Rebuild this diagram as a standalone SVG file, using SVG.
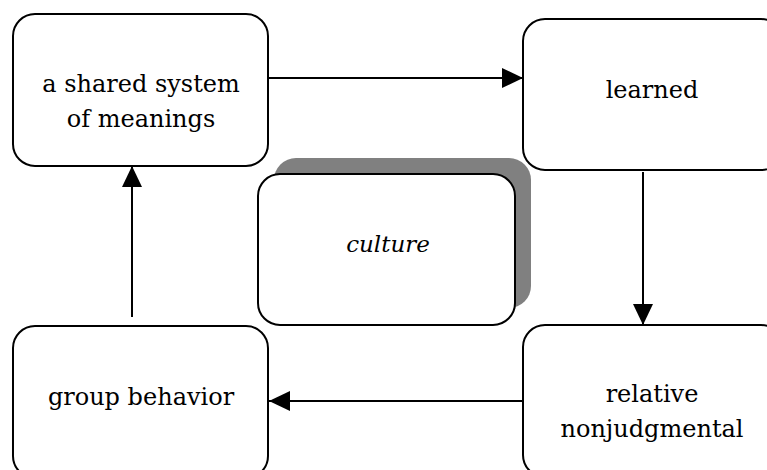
<svg xmlns="http://www.w3.org/2000/svg" width="767" height="470" viewBox="0 0 767 470">
  <style>
    .box { fill: #ffffff; stroke: #000000; stroke-width: 2; }
    .shadow { fill: #808080; stroke: none; }
    .label { font-family: 'DejaVu Serif', 'Liberation Serif', serif; font-size: 24px; fill: #000000; text-anchor: middle; }
    .italic { font-style: italic; font-size: 23px; }
    .edge { stroke: #000000; stroke-width: 2; fill: none; marker-end: url(#arrow); }
  </style>
  <defs>
    <marker id="arrow" viewBox="0 0 21 20" refX="21" refY="10" markerWidth="21" markerHeight="20" markerUnits="userSpaceOnUse" orient="auto">
      <path d="M0,0 L21,10 L0,20 Z" fill="#000000"/>
    </marker>
  </defs>
  <rect width="767" height="470" fill="#ffffff"/>

  <g id="connectors">
    <line class="edge" x1="269" y1="78" x2="523" y2="78"/>
    <line class="edge" x1="643" y1="172" x2="643" y2="325"/>
    <line class="edge" x1="523" y1="401" x2="269" y2="401"/>
    <line class="edge" x1="132" y1="317" x2="132" y2="166"/>
  </g>

  <g id="node-meanings">
    <rect class="box" x="13" y="14" width="255" height="152" rx="22" ry="22"/>
    <text class="label" x="141" y="92">a shared system</text>
    <text class="label" x="141" y="127">of meanings</text>
  </g>

  <g id="node-learned">
    <rect class="box" x="523" y="19" width="260" height="151" rx="22" ry="22"/>
    <text class="label" x="652" y="98">learned</text>
  </g>

  <g id="node-culture">
    <rect class="shadow" x="274" y="158" width="257" height="150" rx="22" ry="22"/>
    <rect class="box" x="258" y="174" width="257" height="151" rx="22" ry="22"/>
    <text class="label italic" x="388" y="252">culture</text>
  </g>

  <g id="node-relative">
    <rect class="box" x="523" y="325" width="260" height="152" rx="22" ry="22"/>
    <text class="label" x="652" y="402">relative</text>
    <text class="label" x="652" y="437">nonjudgmental</text>
  </g>

  <g id="node-group">
    <rect class="box" x="13" y="326" width="255" height="152" rx="22" ry="22"/>
    <text class="label" x="141" y="405">group behavior</text>
  </g>
</svg>
